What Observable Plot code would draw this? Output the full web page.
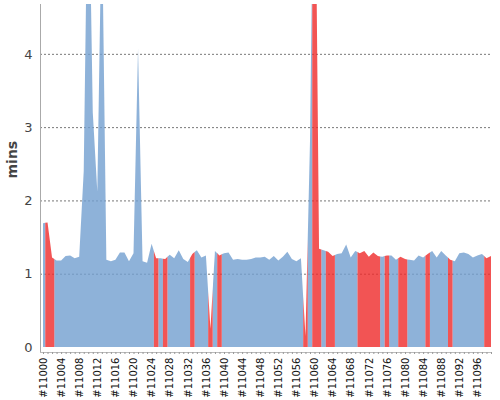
<!DOCTYPE html>
<html>
<head>
<meta charset="utf-8">
<script src="https://cdn.jsdelivr.net/npm/d3@7"></script>
<script src="https://cdn.jsdelivr.net/npm/@observablehq/plot@0.6"></script>
<style>
  html, body { margin: 0; padding: 0; background: #fff; }
  #chart svg { font-family: "DejaVu Sans", sans-serif; }
</style>
</head>
<body>
<div id="chart"></div>
<script>
// Build numbers (categories)
const builds = d3.range(11000, 11100);
// Build durations in minutes, one per build
const minutes = [
  1.69, 1.70, 1.22, 1.18, 1.18, 1.24, 1.25, 1.21, 1.23, 2.40,
  7.00, 3.20, 2.12, 6.00, 1.19, 1.17, 1.19, 1.29, 1.29, 1.17,
  1.28, 4.07, 1.17, 1.15, 1.41, 1.21, 1.21, 1.20, 1.26, 1.21,
  1.32, 1.20, 1.16, 1.27, 1.32, 1.22, 1.25, 0.25, 1.31, 1.25,
  1.28, 1.29, 1.19, 1.20, 1.19, 1.19, 1.20, 1.22, 1.22, 1.23,
  1.19, 1.24, 1.18, 1.23, 1.30, 1.20, 1.17, 1.21, 0.15, 2.80,
  7.90, 1.34, 1.32, 1.30, 1.24, 1.27, 1.28, 1.40, 1.22, 1.31,
  1.28, 1.31, 1.23, 1.29, 1.24, 1.23, 1.25, 1.25, 1.19, 1.23,
  1.20, 1.19, 1.18, 1.25, 1.22, 1.27, 1.31, 1.22, 1.31, 1.25,
  1.19, 1.17, 1.28, 1.29, 1.27, 1.22, 1.25, 1.27, 1.21, 1.24
];
// Builds that failed (drawn red)
const failedBuilds = [11001, 11002, 11025, 11027, 11033, 11037, 11039, 11058, 11060, 11061,
  11063, 11064, 11070, 11071, 11072, 11073, 11074, 11076, 11079, 11080, 11085, 11090, 11098, 11099];
// Labelled ticks
const labelBuilds = d3.range(11000, 11100, 4);
const yTicks = [0, 1, 2, 3, 4];

const data = builds.map((b, i) => ({build: b, min: minutes[i], failed: failedBuilds.includes(b)}));

// Each build occupies the half-way span to its neighbours; group contiguous runs by status
const pts = [];
let run = 0;
data.forEach((d, i) => {
  const prev = data[i - 1], next = data[i + 1];
  if (prev && prev.failed !== d.failed) {
    run++;
    pts.push({x: (prev.build + d.build) / 2, y: (prev.min + d.min) / 2, run, failed: d.failed});
  }
  pts.push({x: d.build, y: d.min, run, failed: d.failed});
  if (next && next.failed !== d.failed) {
    pts.push({x: (d.build + next.build) / 2, y: (d.min + next.min) / 2, run, failed: d.failed});
  }
});

const chart = Plot.plot({
  width: 500,
  height: 400,
  marginTop: 4,
  marginLeft: 40,
  insetLeft: 3,
  marginRight: 9,
  marginBottom: 48,
  insetBottom: 5,
  x: {domain: [11000, 11099], axis: null},
  y: {domain: [0, 4.68], axis: null},
  marks: [
    Plot.ruleY(yTicks.filter(t => t > 0), {stroke: "#777", strokeDasharray: "2,2", strokeWidth: 1}),
    Plot.areaY(pts.filter(p => !p.failed), {x: "x", y: "y", z: "run", fill: "#729FCF", fillOpacity: 0.8, clip: true}),
    Plot.areaY(pts.filter(p => p.failed), {x: "x", y: "y", z: "run", fill: "#EF2929", fillOpacity: 0.8, clip: true}),
    Plot.ruleX([11000], {dx: -3, stroke: "#aaa"}),
    Plot.ruleY([0], {dy: 5, stroke: "#bbb"}),
    Plot.axisY({ticks: yTicks, tickSize: 0, tickPadding: 8, tickFormat: d => String(d), fontSize: 13, color: "#444", label: null}),
    Plot.axisX({ticks: builds, tickSize: 2, tickFormat: () => "", stroke: "#999", label: null}),
    Plot.axisX({ticks: labelBuilds, tickSize: 0, tickPadding: 5, tickRotate: -90, tickFormat: d => "#" + d, fontSize: 10, color: "#111", label: null}),
    Plot.text(["mins"], {frameAnchor: "left", rotate: -90, dx: -28, fontWeight: "bold", fontSize: 14, fill: "#444"})
  ]
});
document.getElementById("chart").appendChild(chart);
</script>
</body>
</html>
